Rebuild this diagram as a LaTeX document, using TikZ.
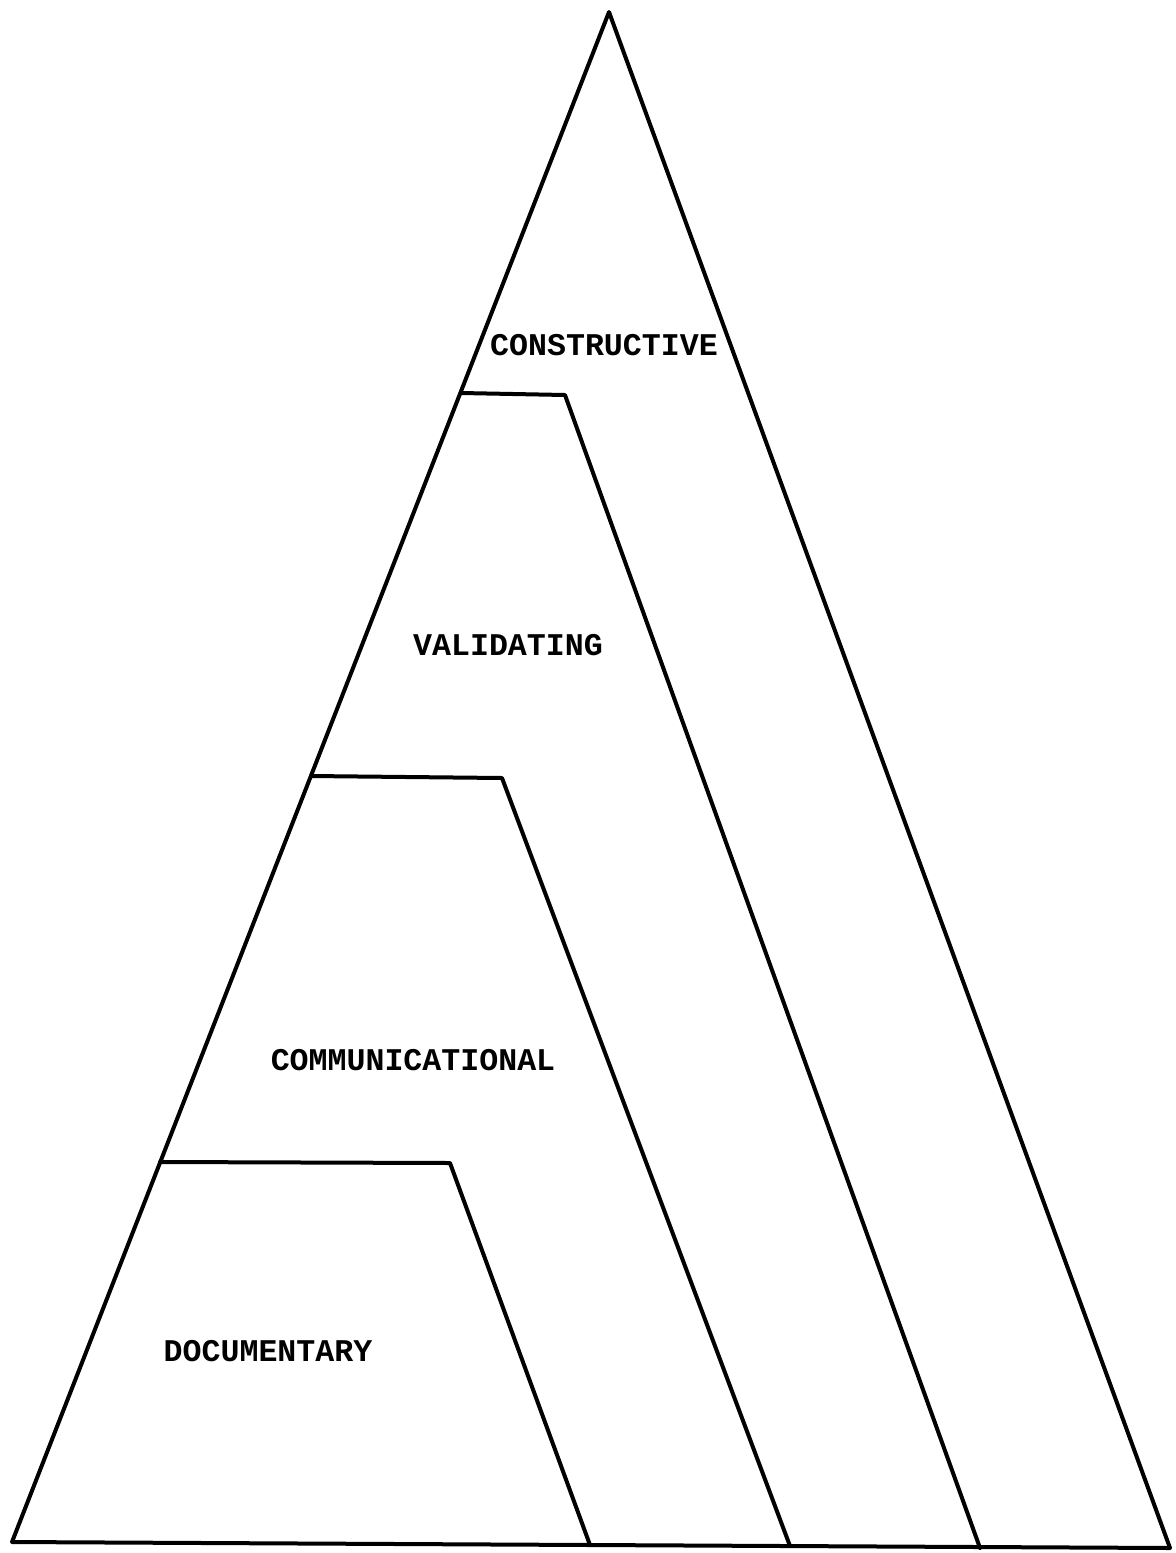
\documentclass[tikz,border=0pt]{standalone}
\usepackage{fontspec}
\setmonofont{Liberation Mono}
\usetikzlibrary{math}

\tikzset{
  edge/.style={line width=2pt, line join=round, line cap=round},
  level/.style={font=\ttfamily\bfseries\fontsize{15.8}{19}\selectfont, inner sep=0pt}
}

\begin{document}
\begin{tikzpicture}[x=0.5pt, y=-0.5pt]
    % page in pixels of the scan, y goes down
    \useasboundingbox (0,0) rectangle (1175,1553);
    \tikzmath{%corners of the big triangle
      \ax = 609; \ay = 12;
      \lx = 12; \ly = 1542;
      \rx = 1170; \ry = 1548;
    }
    \coordinate (apex) at (\ax,\ay);
    \coordinate (bl) at (\lx,\ly);
    \coordinate (br) at (\rx,\ry);
    % steps, left end on the outline
    \coordinate (c1) at (461,393);  \coordinate (c2) at (565,395);  \coordinate (c3) at (980,1548);
    \coordinate (v1) at (311,776);  \coordinate (v2) at (502,778);  \coordinate (v3) at (790,1546);
    \coordinate (m1) at (160,1162); \coordinate (m2) at (450,1163); \coordinate (m3) at (590,1545);
    \draw[edge] (apex) -- (bl) -- (br) -- cycle;
    \draw[edge] (c1) -- (c2) -- (c3);
    \draw[edge] (v1) -- (v2) -- (v3);
    \draw[edge] (m1) -- (m2) -- (m3);
    % labels
    \node[level] (constructive) at (604,345) {CONSTRUCTIVE};
    \node[level] (validating) at (508,645) {VALIDATING};
    \node[level] (communicational) at (413,1060) {COMMUNICATIONAL};
    \node[level] (documentary) at (268,1351) {DOCUMENTARY};
\end{tikzpicture}
\end{document}
